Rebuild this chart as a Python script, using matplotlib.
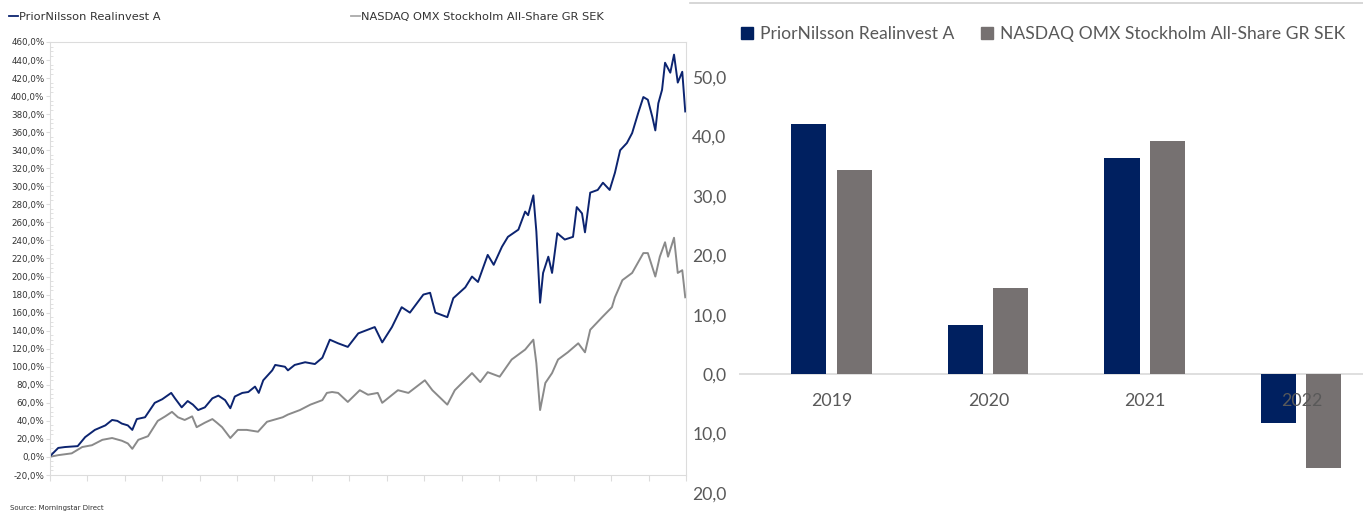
import numpy as np
import matplotlib.pyplot as plt
from matplotlib.lines import Line2D
from matplotlib.patches import Patch

# Cumulative performance (%), time in decimal years
pn_t = [2013.65, 2013.77, 2013.86, 2014.03, 2014.13, 2014.26, 2014.40, 2014.49, 2014.56, 2014.62,
        2014.70, 2014.76, 2014.82, 2014.93, 2015.06, 2015.16, 2015.28, 2015.33, 2015.42, 2015.50,
        2015.57, 2015.64, 2015.73, 2015.83, 2015.91, 2016.00, 2016.07, 2016.13, 2016.23, 2016.31,
        2016.40, 2016.45, 2016.51, 2016.63, 2016.67, 2016.80, 2016.84, 2016.93, 2017.07, 2017.20,
        2017.30, 2017.40, 2017.51, 2017.64, 2017.78, 2018.00, 2018.10, 2018.23, 2018.36, 2018.47,
        2018.65, 2018.74, 2018.81, 2018.97, 2019.05, 2019.21, 2019.30, 2019.38, 2019.51, 2019.59,
        2019.70, 2019.78, 2019.92, 2020.01, 2020.05, 2020.12, 2020.16, 2020.21, 2020.25, 2020.32,
        2020.37, 2020.44, 2020.54, 2020.65, 2020.70, 2020.77, 2020.81, 2020.88, 2020.98, 2021.05,
        2021.14, 2021.21, 2021.28, 2021.37, 2021.44, 2021.52, 2021.59, 2021.65, 2021.71, 2021.75,
        2021.79, 2021.84, 2021.88, 2021.95, 2022.00, 2022.05, 2022.11, 2022.15]
pn_v = [0, 10, 11, 12, 22, 30, 35, 41, 40, 37,
        35, 30, 42, 44, 60, 64, 71, 65, 55, 62,
        58, 52, 55, 65, 68, 63, 54, 67, 71, 72,
        78, 71, 85, 96, 102, 100, 96, 102, 105, 103,
        110, 130, 126, 122, 137, 144, 127, 144, 166, 160,
        180, 182, 160, 155, 176, 188, 200, 194, 224, 213,
        233, 244, 252, 272, 268, 290, 250, 171, 204, 222,
        204, 248, 241, 244, 277, 270, 249, 293, 296, 304,
        296, 315, 340, 348, 359, 381, 399, 396, 377, 362,
        392, 407, 437, 426, 446, 415, 427, 383]

omx_t = [2013.65, 2013.77, 2013.95, 2014.09, 2014.22, 2014.36, 2014.49, 2014.62, 2014.70, 2014.76,
         2014.84, 2014.97, 2015.10, 2015.20, 2015.29, 2015.37, 2015.46, 2015.56, 2015.62, 2015.73,
         2015.83, 2015.89, 2015.96, 2016.07, 2016.17, 2016.29, 2016.44, 2016.56, 2016.77, 2016.84,
         2017.00, 2017.14, 2017.30, 2017.36, 2017.43, 2017.51, 2017.64, 2017.80, 2017.91, 2018.04,
         2018.10, 2018.31, 2018.45, 2018.67, 2018.77, 2018.97, 2019.07, 2019.30, 2019.41, 2019.51,
         2019.67, 2019.83, 2020.01, 2020.12, 2020.16, 2020.21, 2020.28, 2020.37, 2020.45, 2020.58,
         2020.72, 2020.81, 2020.88, 2021.04, 2021.17, 2021.21, 2021.31, 2021.44, 2021.59, 2021.65,
         2021.75, 2021.81, 2021.88, 2021.92, 2022.00, 2022.05, 2022.11, 2022.15]
omx_v = [0, 2, 4, 11, 13, 19, 21, 18, 15, 9,
         19, 23, 40, 45, 50, 44, 41, 45, 33, 38,
         42, 38, 33, 21, 30, 30, 28, 39, 44, 47,
         52, 58, 63, 71, 72, 71, 61, 74, 69, 71,
         60, 74, 71, 85, 74, 58, 74, 93, 83, 94,
         89, 108, 119, 130, 104, 52, 82, 93, 108, 116,
         126, 116, 141, 155, 166, 177, 196, 204, 226, 226,
         200, 222, 238, 222, 243, 204, 207, 177]

# Yearly returns (%)
years = ["2019", "2020", "2021", "2022"]
pn_year = [42.1, 8.3, 36.4, -8.3]
omx_year = [34.4, 14.5, 39.2, -15.8]

fund_name = "PriorNilsson Realinvest A"
index_name = "NASDAQ OMX Stockholm All-Share GR SEK"

W, H = 1363, 511
fig = plt.figure(figsize=(W / 100, H / 100), dpi=100)

navy_line = "#0c2470"
gray_line = "#8a8a8a"
frame = "#dcdcdc"

# ---- left: cumulative line chart ----
ax = fig.add_axes([50 / W, 1 - 475 / H, 636 / W, 433 / H])
ax.plot(omx_t, omx_v, color=gray_line, lw=1.4)
ax.plot(pn_t, pn_v, color=navy_line, lw=1.4)
ax.set_xlim(2013.66, 2022.16)
ax.set_ylim(-20, 460)
yt = np.arange(-20, 461, 20)
ax.set_yticks(yt)
ax.set_yticklabels([f"{v:.1f}".replace(".", ",") + "%" for v in yt], fontsize=6.3, color="#333333")
ax.set_yticks(np.arange(-20, 461, 5), minor=True)
ax.set_xticks(np.arange(2013.66, 2022.17, 0.5))
ax.set_xticklabels([])
for s in ax.spines.values():
    s.set_color(frame)
    s.set_linewidth(0.8)
ax.tick_params(axis="y", which="major", length=3, color=frame, pad=1)
ax.tick_params(axis="y", which="minor", length=2, color=frame, direction="in")
ax.tick_params(axis="x", length=4, color=frame)

fig.legend(handles=[Line2D([], [], color=navy_line, lw=1.3)], labels=[fund_name],
           loc="center left", bbox_to_anchor=(9 / W, 1 - 17 / H), frameon=False,
           handlelength=0.8, handletextpad=0.12, prop={"size": 8.2}, labelcolor="#333333",
           borderaxespad=0, borderpad=0)
fig.legend(handles=[Line2D([], [], color="#aaaaaa", lw=1.3)], labels=[index_name],
           loc="center left", bbox_to_anchor=(351 / W, 1 - 17 / H), frameon=False,
           handlelength=0.8, handletextpad=0.12, prop={"size": 8.2}, labelcolor="#333333",
           borderaxespad=0, borderpad=0)
fig.text(10 / W, 1 - 508 / H, "Source: Morningstar Direct", fontsize=5, color="#333333", va="center")

# ---- right: yearly bar chart ----
navy_bar = "#002060"
gray_bar = "#767171"
txt = "#595959"
font = ["Lato", "DejaVu Sans"]

bx = fig.add_axes([739 / W, 1 - 493 / H, 624 / W, 416 / H])
x = np.arange(len(years))
bx.bar(x - 0.147, pn_year, width=0.224, color=navy_bar)
bx.bar(x + 0.141, omx_year, width=0.224, color=gray_bar)
bx.axhline(0, color="#d9d9d9", lw=1.2, zorder=0.5)
bx.set_xlim(-0.594, 3.393)
bx.set_ylim(-20, 50)
bt = np.arange(-20, 51, 10)
bx.set_yticks(bt)
bx.set_yticklabels([f"{abs(v):.1f}".replace(".", ",") for v in bt], fontsize=12.6,
                   color=txt, family=font)
bx.tick_params(axis="y", length=0, pad=9)
bx.set_xticks([])
for s in bx.spines.values():
    s.set_visible(False)
for i, yr in enumerate(years):
    bx.annotate(yr, (i, 0), xytext=(0, -19.5), textcoords="offset points", ha="center",
                va="center", fontsize=12.8, color=txt, family=font, zorder=5)

fig.legend(handles=[Patch(color=navy_bar), Patch(color=gray_bar)],
           labels=[fund_name, index_name], ncol=2, loc="center left",
           bbox_to_anchor=(741 / W, 1 - 34 / H), frameon=False,
           handlelength=0.7, handleheight=0.7, handletextpad=0.4, columnspacing=1.5,
           prop={"family": font, "size": 12.6}, labelcolor=txt,
           borderaxespad=0, borderpad=0)

fig.add_artist(Line2D([690 / W, 1], [1 - 3 / H, 1 - 3 / H], color="#d0d0d0", lw=1.2,
                      transform=fig.transFigure))

fig.savefig("out.png", dpi=100)
